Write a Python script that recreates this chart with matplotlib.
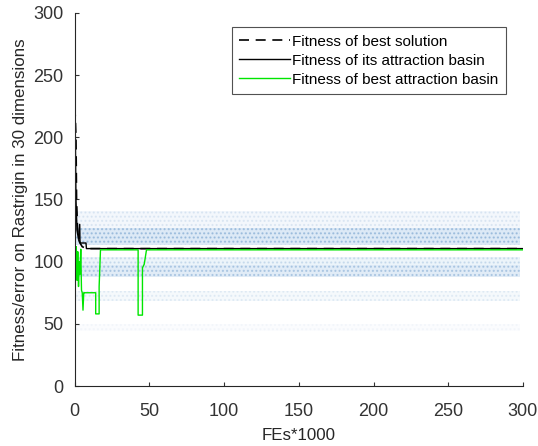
import matplotlib
matplotlib.use('Agg')
import matplotlib.pyplot as plt
import numpy as np

### Data ###
## Population cloud bands (x range, lower, upper, density)
band_x = [0, 298]
band_lo = [113, 127, 88, 97, 68, 44]
band_hi = [127, 141, 97, 104, 76, 50]
band_alpha = [0.35, 0.12, 0.30, 0.18, 0.10, 0.04]

## Fitness of best solution (dashed)
best_x = [0, 0.4, 0.8, 1.2, 1.8, 2.5, 3.5, 5, 8, 300]
best_y = [225, 215, 200, 150, 128, 118, 115, 112, 110.5, 110.5]

## Fitness of its attraction basin (solid black)
basin_x = [0, 0.3, 0.8, 1.5, 2.5, 3.3, 3.5, 5, 7.5, 7.8, 300]
basin_y = [220, 210, 150, 125, 118, 130, 115, 115, 115, 110.5, 110.5]

## Fitness of best attraction basin (green)
green_x = [0, 0.5, 1, 1.5, 2, 2.5, 3, 3.5, 4, 4.5, 5, 5.5, 6, 6.5, 14, 14, 16.3, 16.3, 17.2,
           42.4, 42.4, 45.3, 45.3, 46.5, 48, 300]
green_y = [115, 95, 112, 85, 108, 80, 100, 90, 110, 77, 75, 61, 75, 75, 75, 58, 58, 80, 109.5,
           109.5, 57, 57, 95, 98, 109.5, 109.5]

labels = ['Fitness of best solution', 'Fitness of its attraction basin',
          'Fitness of best attraction basin']

plt.rcParams['font.family'] = ['Liberation Sans', 'DejaVu Sans']

fig = plt.figure(figsize=(5.38, 4.46), dpi=100)
ax = fig.add_axes([0.139, 0.1345, 0.833, 0.8365])

## Cloud of sampled points as dotted bands
for lo, hi, a in zip(band_lo, band_hi, band_alpha):
    ax.fill_between(band_x, lo, hi, color='#5b9bd5', alpha=a * 0.6, linewidth=0)
    ax.fill_between(band_x, lo, hi, facecolor='none', edgecolor='#3d7ab8',
                    hatch='....', linewidth=0, alpha=a)

ax.plot(best_x, best_y, color='black', linestyle=(0, (6, 4)), linewidth=1.2, label=labels[0])
ax.plot(basin_x, basin_y, color='black', linewidth=1.0, label=labels[1])
ax.plot(green_x, green_y, color='#00e600', linewidth=1.0, label=labels[2])

ax.set_xlim(0, 300)
ax.set_ylim(0, 300)
ax.set_xticks(np.arange(0, 301, 50))
ax.set_yticks(np.arange(0, 301, 50))
ax.spines['top'].set_visible(False)
ax.spines['right'].set_visible(False)
ax.spines['left'].set_color('#262626')
ax.spines['bottom'].set_color('#262626')
ax.tick_params(direction='in', length=3, labelsize=13, colors='#333333')
ax.tick_params(axis='x', pad=12)
ax.tick_params(axis='y', pad=8)

ax.set_xlabel('FEs*1000', fontsize=12.2, color='#262626', labelpad=6)
ax.set_ylabel('Fitness/error on Rastrigin in 30 dimensions', fontsize=12.2, color='#262626',
              labelpad=4)

leg = ax.legend(loc='upper right', bbox_to_anchor=(0.962, 0.962), fontsize=11,
                frameon=True, fancybox=False, edgecolor='#262626', handlelength=3.3,
                handletextpad=0.15, borderpad=0.5, labelspacing=0.32, borderaxespad=0)
leg.get_frame().set_linewidth(0.8)

fig.savefig('out.png', dpi=100)
